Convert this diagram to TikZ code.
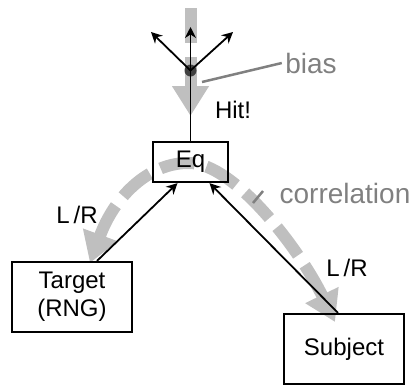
\documentclass[tikz,border=0pt]{standalone}
\usepackage{fontspec}
\setmainfont{Liberation Sans}
\usetikzlibrary{arrows.meta}
\begin{document}
\begin{tikzpicture}[x=1pt,y=-1pt,
  box/.style={draw=black,line width=2.2pt,minimum width=#1,inner sep=0pt},
  blk/.style={font=\fontsize{24}{28}\selectfont,text=black},
  glab/.style={font=\fontsize{28}{32}\selectfont,text=gray},
  conn/.style={line width=1.8pt,-{Stealth[length=11pt,width=11pt]}},
  band/.style={draw=gray!50,line width=12pt,dash pattern=on 35pt off 12pt,-{Triangle[length=30pt,width=35pt]}}]
\useasboundingbox (0,0) rectangle (415,384);
% gray bands
\draw[band,dash pattern=on 35pt off 14pt] (190.5,8) -- (190.5,116);
\draw[band,{Triangle[length=30pt,width=35pt]}-{Triangle[length=30pt,width=35pt]}]
  (90,263) .. controls (115,195) and (150,162) .. (190,163)
           .. controls (235,164) and (300,250) .. (335,322);
% boxes
\node[box=75pt,minimum height=40pt,blk] (eq) at (190.5,162) {Eq};
\node[box=120pt,minimum height=70pt,blk,align=center] (target) at (72,297) {Target\\(RNG)};
\node[box=120pt,minimum height=70pt,blk] (subject) at (344,349) {Subject};
% top structure
\coordinate (tipU) at (190.5,27);
\coordinate (tipL) at (151,32);
\coordinate (tipR) at (233,32);
\node[circle,fill=black!75,minimum size=12pt,inner sep=0pt] (dot) at (190.5,70.5) {};
\draw[line width=1.8pt] (eq.north) -- (dot.center);
\draw[conn] (dot.center) -- (tipU);
\draw[conn] (dot.center) -- (tipL);
\draw[conn] (dot.center) -- (tipR);
% connectors
\draw[conn] ([xshift=25pt]target.north) -- ([xshift=-13pt]eq.south);
\draw[conn] ([xshift=-6pt]subject.north) -- ([xshift=19pt]eq.south);
% labels
\node[blk] (hit) at (233,110) {Hit!};
\node[blk] (lrl) at (77,215) {L\,/R};
\node[blk] (lrr) at (347,268) {L\,/R};
\node[glab] (bias) at (311,63) {bias};
\node[glab] (corr) at (345,193) {correlation};
\draw[gray,line width=2.5pt] (202,82) -- (bias.west);
\draw[gray,line width=2.5pt] (253,203) -- (263,191);
\end{tikzpicture}
\end{document}
